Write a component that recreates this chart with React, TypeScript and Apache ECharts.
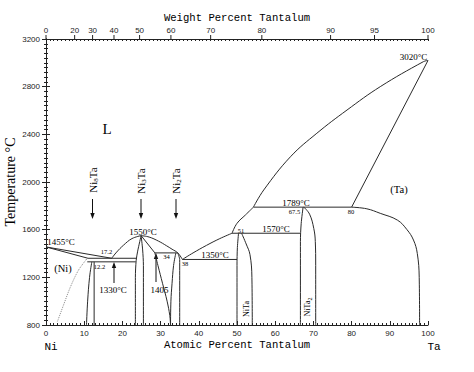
import React, { useEffect, useRef } from "react";
import * as echarts from "echarts";

// Top axis: weight-percent labels and their atomic-percent positions
const weightLabels = ["0", "20", "30", "40", "50", "60", "70", "80", "90", "95", "100"];
const weightAtAtomic = [0, 7.5, 12.2, 17.8, 24.5, 32.7, 43.1, 56.5, 74.5, 86.0, 100];

// Phase boundaries [atomic % Ta, °C]
const liquidusNi = [[0, 1455], [17.2, 1360]];
const solidusNi = [[0, 1455], [11, 1360]];
const solvusNi = [[3.0, 830], [4.5, 960], [6.4, 1120], [8.5, 1260], [10.8, 1360]];
const eutectic1360 = [[11, 1360], [23.7, 1360]];
const peritectoid1330 = [[10.8, 1330], [23.5, 1330]];
const ni8TaLeft = [[12.0, 1330], [11.4, 1200], [10.9, 1000], [10.6, 800]];
const ni8TaRight = [[12.6, 1330], [12.6, 800]];
const liquidusNi3TaLeft = [[17.2, 1360], [18.5, 1412], [20.3, 1470], [22.5, 1525], [24.9, 1550]];
const liquidusNi3TaRight = [[24.9, 1550], [27, 1538], [29.5, 1503], [31.5, 1466], [33, 1436], [34.5, 1405], [35.7, 1350]];
const ni3TaLeft = [[24.9, 1550], [24.0, 1420], [23.6, 1340], [23.4, 1200], [23.4, 800]];
const ni3TaRight = [[24.9, 1550], [25.3, 1430], [25.5, 1300], [25.5, 800]];
const ni3TaSolidus = [[24.9, 1550], [28.5, 1405]];
const peritectic1405 = [[28.5, 1405], [34.5, 1405]];
const ni2TaSolvus = [[28.5, 1405], [29.3, 1300], [30.5, 1150], [31.7, 1000], [32.4, 880], [32.6, 800]];
const ni2TaLeft = [[34.0, 1405], [33.4, 1300], [33.0, 1150], [32.7, 1000], [32.6, 800]];
const ni2TaRight = [[34.5, 1405], [35.0, 1350], [35.0, 800]];
const eutectic1350 = [[35.7, 1350], [50, 1350]];
const liquidusNiTaLow = [[35.7, 1350], [38.5, 1405], [42, 1468], [45.5, 1525], [48.7, 1570]];
const liquidusNiTaHigh = [[48.7, 1570], [50.0, 1653], [52.2, 1723], [54.3, 1789]];
const peritectic1570 = [[48.7, 1570], [66.6, 1570]];
const niTaLeft = [[50.4, 1570], [50.1, 1450], [50, 1300], [50, 800]];
const niTaRight = [[51.2, 1570], [52.4, 1480], [53.4, 1390], [53.9, 1200], [54, 800]];
const peritectic1789 = [[54.3, 1789], [80, 1789]];
const niTa2Left = [[67.3, 1789], [66.8, 1650], [66.6, 1500], [66.6, 800]];
const niTa2Right = [[67.5, 1789], [69, 1730], [70.1, 1610], [70.5, 1500], [70.6, 1300], [70.6, 800]];
const liquidusTa = [[54.3, 1789], [57, 1933], [64, 2212], [70.9, 2409], [78.8, 2604], [87.5, 2800], [98.8, 3010], [100, 3020]];
const solidusTa = [[80, 1789], [100, 3020]];
const solvusTa = [[80, 1789], [84, 1775], [87.5, 1737], [92, 1680], [94.5, 1600], [96.2, 1513], [97.2, 1400], [97.7, 1200], [97.8, 800]];

const INK = "#2a2a2a";
const TXT = "#000000";
const SERIF = '"Liberation Serif", "DejaVu Serif", serif';
const SANS = '"Liberation Sans", Arial, sans-serif';
const MONO = '"Liberation Mono", "DejaVu Sans Mono", monospace';

function line(data: number[][], smooth: boolean | number = false, dotted = false) {
  return {
    type: "line",
    data,
    symbol: "none",
    smooth,
    silent: true,
    lineStyle: { color: dotted ? "#8a8a8a" : INK, width: 1, type: dotted ? "dotted" : "solid" },
    z: 3,
  };
}

function txt(text: string, x: number, y: number, size: number, family = SERIF, align = "center", extra: any = {}) {
  return {
    type: "text",
    x,
    y,
    silent: true,
    z: 10,
    ...extra,
    style: {
      text,
      fill: TXT,
      fontSize: size,
      fontFamily: family,
      align,
      verticalAlign: "middle",
      textAlign: align,
      textVerticalAlign: "middle",
    },
  };
}

function compoundLabel(sub: string, x: number, y: number) {
  return {
    type: "text",
    x,
    y,
    rotation: Math.PI / 2,
    silent: true,
    z: 10,
    style: {
      text: "{a|Ni}{s|" + sub + "}{a|Ta}",
      align: "center",
      verticalAlign: "middle",
      rich: {
        a: { fontSize: 11, fontFamily: SERIF, fill: TXT, lineHeight: 13 },
        s: { fontSize: 7, fontFamily: SERIF, fill: TXT, lineHeight: 7, verticalAlign: "bottom" },
      },
    },
  };
}

function arrow(x: number, y1: number, y2: number) {
  const dir = y2 > y1 ? 1 : -1;
  return {
    type: "group",
    silent: true,
    z: 10,
    children: [
      { type: "line", shape: { x1: x, y1, x2: x, y2: y2 - dir * 5 }, style: { stroke: "#111", lineWidth: 1 } },
      {
        type: "polygon",
        shape: { points: [[x - 2.2, y2 - dir * 6], [x + 2.2, y2 - dir * 6], [x, y2]] },
        style: { fill: "#111" },
      },
    ],
  };
}

export default function App() {
  const ref = useRef<HTMLDivElement>(null);
  useEffect(() => {
    if (!ref.current) return;
    const chart = echarts.init(ref.current, undefined, { renderer: "svg" });
    const axisLineStyle = { color: "#222", width: 1 };
    const option: any = {
      animation: false,
      backgroundColor: "#ffffff",
      grid: { left: 46, right: 46, top: 39, bottom: 47 },
      xAxis: [
        {
          type: "value",
          position: "bottom",
          min: 0,
          max: 100,
          interval: 10,
          axisLine: { show: true, lineStyle: axisLineStyle },
          axisTick: { show: true, inside: true, length: 4, lineStyle: axisLineStyle },
          minorTick: { show: true, splitNumber: 10, length: 2, lineStyle: axisLineStyle },
          axisLabel: { fontSize: 8, color: "#222", margin: 4, fontFamily: SANS },
          splitLine: { show: false },
        },
        {
          type: "value",
          position: "top",
          min: 0,
          max: 100,
          interval: 10,
          axisLine: { show: true, lineStyle: axisLineStyle },
          axisTick: { show: true, inside: true, length: 2, lineStyle: axisLineStyle },
          minorTick: { show: true, splitNumber: 10, length: 2, lineStyle: axisLineStyle },
          axisLabel: { show: false },
          splitLine: { show: false },
        },
      ],
      yAxis: [
        {
          type: "value",
          position: "left",
          min: 800,
          max: 3200,
          interval: 400,
          axisLine: { show: true, lineStyle: axisLineStyle },
          axisTick: { show: true, length: 4, lineStyle: axisLineStyle },
          minorTick: { show: true, splitNumber: 10, length: 2, lineStyle: axisLineStyle },
          axisLabel: { fontSize: 8, color: "#222", margin: 6, fontFamily: SANS, formatter: (v: number) => String(v) },
          splitLine: { show: false },
        },
        {
          type: "value",
          position: "right",
          min: 800,
          max: 3200,
          interval: 400,
          axisLine: { show: true, lineStyle: axisLineStyle },
          axisTick: { show: true, length: 4, lineStyle: axisLineStyle },
          minorTick: { show: true, splitNumber: 10, length: 2, lineStyle: axisLineStyle },
          axisLabel: { show: false },
          splitLine: { show: false },
        },
      ],
      series: [
        line(liquidusNi),
        line(solidusNi),
        line(solvusNi, 0.3, true),
        line(eutectic1360),
        line(peritectoid1330),
        line(ni8TaLeft, 0.4),
        line(ni8TaRight),
        line(liquidusNi3TaLeft, 0.4),
        line(liquidusNi3TaRight, 0.4),
        line(ni3TaLeft, 0.3),
        line(ni3TaRight, 0.3),
        line(ni3TaSolidus),
        line(peritectic1405),
        line(ni2TaSolvus, 0.4),
        line(ni2TaLeft, 0.4),
        line(ni2TaRight, 0.2),
        line(eutectic1350),
        line(liquidusNiTaLow, 0.4),
        line(liquidusNiTaHigh, 0.4),
        line(peritectic1570),
        line(niTaLeft, 0.3),
        line(niTaRight, 0.4),
        line(peritectic1789),
        line(niTa2Left, 0.3),
        line(niTa2Right, 0.4),
        line(liquidusTa, 0.4),
        line(solidusTa),
        line(solvusTa, 0.4),
        {
          type: "custom",
          xAxisIndex: 0,
          yAxisIndex: 0,
          clip: false,
          silent: true,
          z: 5,
          data: weightAtAtomic.map((a) => [a, 3200]),
          renderItem: (params: any, api: any) => {
            const p = api.coord([api.value(0), api.value(1)]);
            return {
              type: "group",
              children: [
                { type: "line", shape: { x1: p[0], y1: p[1], x2: p[0], y2: p[1] - 4 }, style: { stroke: "#222", lineWidth: 1 } },
                {
                  type: "text",
                  style: {
                    text: weightLabels[params.dataIndex],
                    x: p[0],
                    y: p[1] - 8.5,
                    align: "center",
                    verticalAlign: "middle",
                    fontSize: 8,
                    fontFamily: SANS,
                    fill: "#222",
                  },
                },
              ],
            };
          },
        },
      ],
      graphic: [
        txt("Weight Percent Tantalum", 237, 18, 10.6, MONO),
        txt("Atomic Percent Tantalum", 237, 345, 10.6, MONO),
        txt("Ni", 51, 347, 11, MONO),
        txt("Ta", 434, 347, 11, MONO),
        txt("Temperature °C", 10, 182, 14, SERIF, "center", { rotation: Math.PI / 2 }),
        txt("L", 107, 129, 15, SERIF),
        txt("(Ni)", 63, 268, 10.5, SERIF),
        txt("(Ta)", 399, 189, 10.5, SERIF),
        txt("1455°C", 61, 241.5, 9, SERIF),
        txt("1550°C", 143, 231.5, 9, SERIF),
        txt("17.2", 106.5, 251, 6.5, SERIF),
        txt("12.2", 99.5, 266.5, 6.5, SERIF),
        txt("1330°C", 113, 290, 9, SERIF),
        txt("1405", 159.5, 290, 9, SERIF),
        txt("34", 166.5, 256, 6.5, SERIF),
        txt("38", 185, 263, 6.5, SERIF),
        txt("1350°C", 215, 255, 9, SERIF),
        txt("51", 241, 230, 6.5, SERIF),
        txt("1570°C", 276, 228.5, 9, SERIF),
        txt("1789°C", 296, 202.5, 9, SERIF),
        txt("67.5", 294.5, 211, 6.5, SERIF),
        txt("80", 351, 211.5, 6.5, SERIF),
        txt("3020°C", 413.5, 57, 9, SERIF),
        txt("NiTa", 246.5, 309, 8, SERIF, "center", { rotation: Math.PI / 2 }),
        {
          type: "text",
          x: 307.5,
          y: 307,
          rotation: Math.PI / 2,
          silent: true,
          z: 10,
          style: {
            text: "{a|NiTa}{s|2}",
            align: "center",
            verticalAlign: "middle",
            rich: {
              a: { fontSize: 8, fontFamily: SERIF, fill: TXT, lineHeight: 10 },
              s: { fontSize: 6, fontFamily: SERIF, fill: TXT, lineHeight: 6, verticalAlign: "bottom" },
            },
          },
        },
        compoundLabel("8", 93, 180),
        compoundLabel("3", 141, 181),
        compoundLabel("2", 176, 181),
        arrow(92.5, 199, 219),
        arrow(141, 199, 219),
        arrow(176, 199, 219),
        arrow(114, 283, 262),
        arrow(156, 282, 253),
      ],
    };
    chart.setOption(option);
    return () => chart.dispose();
  }, []);
  return (
    <div
      ref={ref}
      style={{ position: "fixed", left: 0, top: 0, width: 474, height: 372, background: "#fff" }}
    />
  );
}
